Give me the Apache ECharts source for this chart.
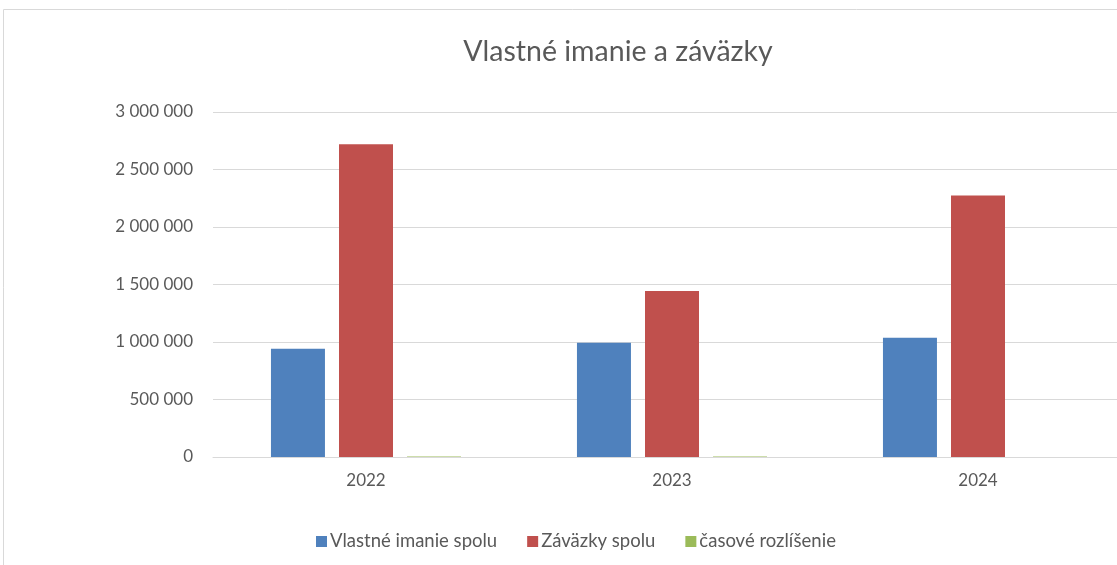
<!DOCTYPE html>
<html>
<head>
<meta charset="utf-8">
<script src="https://cdn.jsdelivr.net/npm/echarts@6/dist/echarts.min.js"></script>
<style>
  html, body { margin: 0; padding: 0; background: #fff; overflow: hidden; }
  #chart { width: 1140px; height: 565px; }
</style>
</head>
<body>
<div id="chart"></div>
<script>
// roky
const years = ['2022', '2023', '2024']
// hodnoty odčítané z grafu
const vlastneImanie = [942000, 994000, 1037000]
const zavazky = [2719000, 1443000, 2275000]
const casoveRozlisenie = [5000, 4000, 0]

const font = 'Lato, "Open Sans", sans-serif'
const gray = '#595959'

const chart = echarts.init(document.getElementById('chart'))

const option = {
  animation: false,
  textStyle: { fontFamily: font },
  title: {
    text: 'Vlastné imanie a záväzky',
    left: 613,
    top: 32,
    textAlign: 'center',
    textStyle: { fontFamily: font, fontSize: 28.5, fontWeight: 'normal', color: gray }
  },
  graphic: [
    {
      type: 'rect',
      shape: { x: 3.5, y: 9.5, width: 1160, height: 600 },
      style: { fill: 'none', stroke: '#d9d9d9', lineWidth: 1 },
      silent: true
    }
  ],
  legend: {
    left: 311,
    top: 527,
    itemWidth: 11,
    itemHeight: 11,
    itemGap: 30,
    icon: 'rect',
    textStyle: { fontFamily: font, fontSize: 18.5, color: gray, padding: [0, 0, 0, -2] },
    data: ['Vlastné imanie spolu', 'Záväzky spolu', 'časové rozlíšenie']
  },
  grid: {
    left: 213,
    top: 112,
    width: 918,
    height: 345,
    containLabel: false
  },
  xAxis: {
    type: 'category',
    data: years,
    axisLine: { lineStyle: { color: '#d9d9d9' } },
    axisTick: { show: false },
    axisLabel: { color: gray, fontSize: 17, fontFamily: font, margin: 15 }
  },
  yAxis: {
    type: 'value',
    min: 0,
    max: 3000000,
    interval: 500000,
    axisLine: { show: false },
    axisTick: { show: false },
    splitLine: { lineStyle: { color: '#d9d9d9' } },
    axisLabel: {
      color: gray,
      fontSize: 17,
      fontFamily: font,
      margin: 20,
      formatter: v => String(v).replace(/\B(?=(\d{3})+(?!\d))/g, ' ')
    }
  },
  series: [
    {
      name: 'Vlastné imanie spolu',
      type: 'bar',
      data: vlastneImanie,
      barWidth: 54,
      barGap: '26%',
      itemStyle: { color: '#4f81bd' }
    },
    {
      name: 'Záväzky spolu',
      type: 'bar',
      data: zavazky,
      barWidth: 54,
      barGap: '26%',
      itemStyle: { color: '#c0504d' }
    },
    {
      name: 'časové rozlíšenie',
      type: 'bar',
      data: casoveRozlisenie,
      barWidth: 54,
      barGap: '26%',
      itemStyle: { color: '#9bbb59' }
    }
  ]
}

chart.setOption(option)
</script>
</body>
</html>
